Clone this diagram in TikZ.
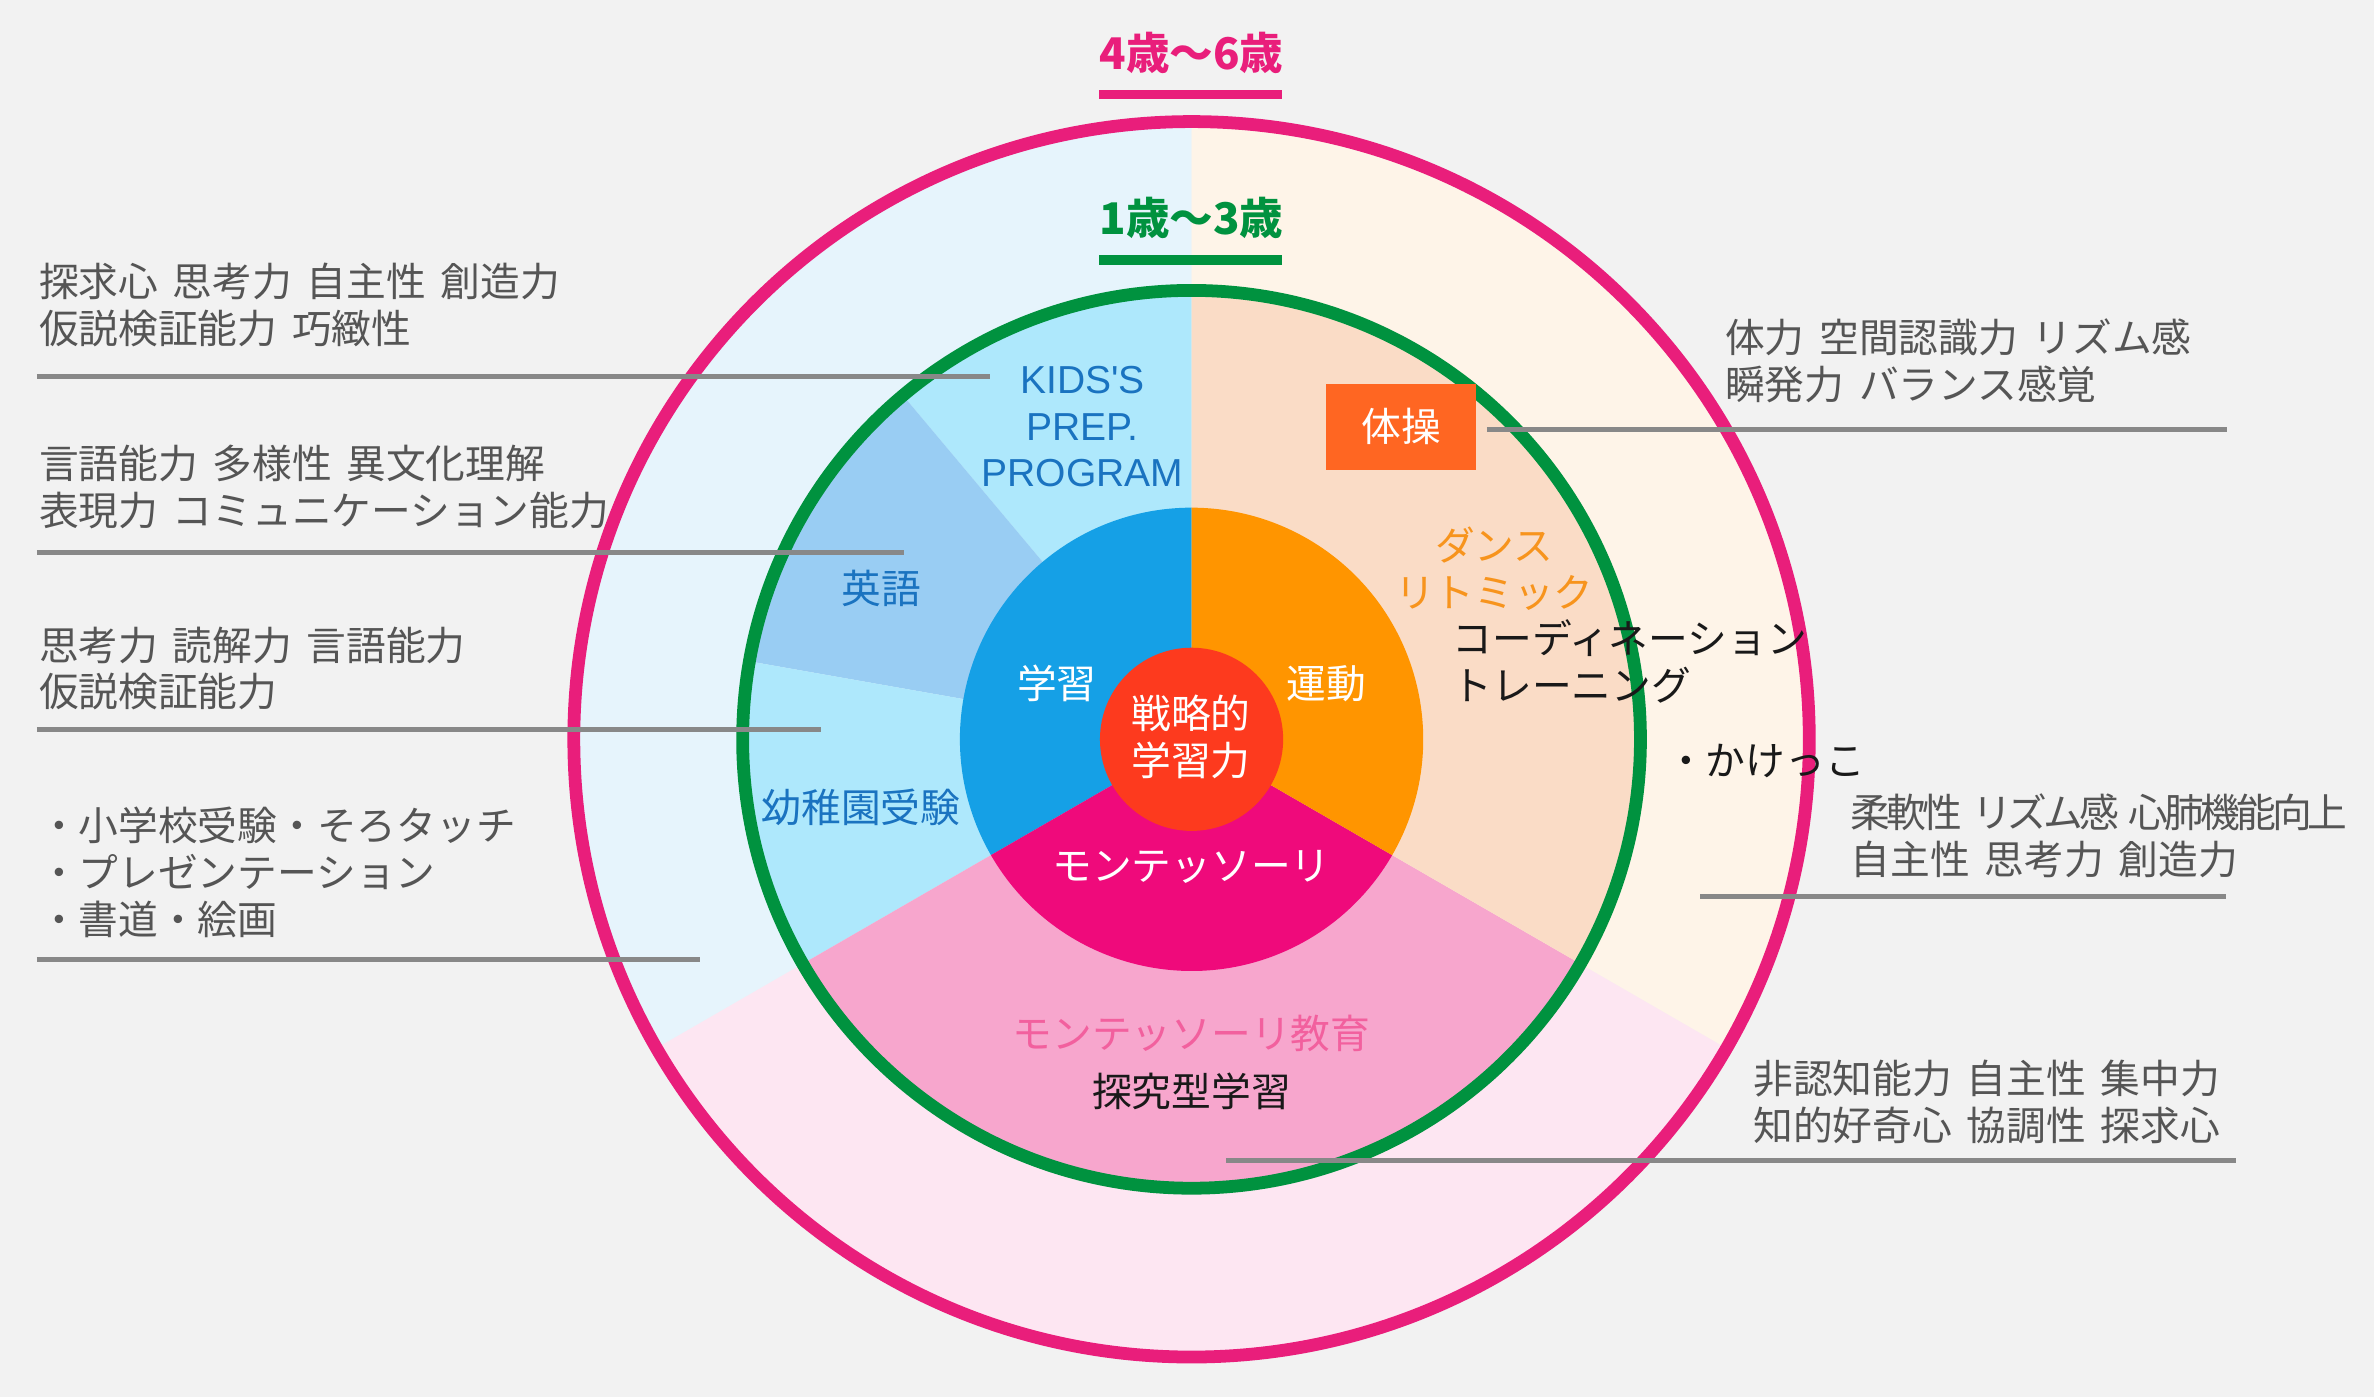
\documentclass[tikz,border=0pt]{standalone}
\usepackage{fontspec}
\setmainfont{Noto Sans CJK JP}
\newfontfamily\latinfont{Liberation Sans}
\usepackage{tikz}
\usetikzlibrary{calc,positioning}

\definecolor{bgGray}{HTML}{F2F2F2}
\definecolor{outBlue}{HTML}{E6F4FC}
\definecolor{outPeach}{HTML}{FEF4E8}
\definecolor{outPink}{HTML}{FDE6F2}
\definecolor{kidsCyan}{HTML}{AEE8FC}
\definecolor{eigoBlue}{HTML}{99CDF3}
\definecolor{ringPeach}{HTML}{FADCC6}
\definecolor{ringPink}{HTML}{F7A6CD}
\definecolor{studyBlue}{HTML}{15A0E6}
\definecolor{moveOrange}{HTML}{FF9500}
\definecolor{monteMagenta}{HTML}{EF0A7B}
\definecolor{coreRed}{HTML}{FD3A1E}
\definecolor{taisoOrange}{HTML}{FF6622}
\definecolor{ageGreen}{HTML}{00923F}
\definecolor{agePink}{HTML}{E91E7B}
\definecolor{labelBlue}{HTML}{1A73C0}
\definecolor{danceOrange}{HTML}{F7941D}
\definecolor{monteText}{HTML}{F2609E}
\definecolor{textGray}{HTML}{555555}
\definecolor{lineGray}{HTML}{888888}

\newcommand{\bodyfont}{\fontsize{11.2}{13.2}\selectfont\spaceskip=0.37em\relax}
\newcommand{\agefont}{\fontsize{12.3}{14}\selectfont\bfseries}

\tikzset{
  leader/.style={draw=lineGray, line width=1.4pt},
  graytext/.style={anchor=west, inner sep=0pt, text=textGray, align=left, font=\bodyfont},
  darktext/.style={inner sep=0pt, text=black!90, align=left, font=\bodyfont},
  seclabel/.style={inner sep=0pt, align=center, font=\bodyfont},
  agetitle/.style={inner sep=0pt, font=\agefont},
}

\begin{document}
\begin{tikzpicture}[x=0.15mm,y=-0.15mm]
  \useasboundingbox (0,0) rectangle (1568,923);
  \fill[bgGray] (0,0) rectangle (1568,923);
  \coordinate (c) at (787,488.3);

  % Outer ring (4-6 years)
  \fill[outBlue] (c) -- ++(-90:408) arc[start angle=-90, end angle=-210, radius=408] -- cycle;
  \fill[outPink] (c) -- ++(-210:408) arc[start angle=-210, end angle=-330, radius=408] -- cycle;
  \fill[outPeach] (c) -- ++(30:408) arc[start angle=30, end angle=-90, radius=408] -- cycle;
  % Green ring (1-3 years)
  \fill[kidsCyan] (c) -- ++(-90:296.5) arc[start angle=-90, end angle=-130, radius=296.5] -- cycle;
  \fill[eigoBlue] (c) -- ++(-130:296.5) arc[start angle=-130, end angle=-170, radius=296.5] -- cycle;
  \fill[kidsCyan] (c) -- ++(-170:296.5) arc[start angle=-170, end angle=-210, radius=296.5] -- cycle;
  \fill[ringPink] (c) -- ++(-210:296.5) arc[start angle=-210, end angle=-330, radius=296.5] -- cycle;
  \fill[ringPeach] (c) -- ++(30:296.5) arc[start angle=30, end angle=-90, radius=296.5] -- cycle;
  % Middle ring
  \fill[studyBlue] (c) -- ++(-90:153) arc[start angle=-90, end angle=-210, radius=153] -- cycle;
  \fill[monteMagenta] (c) -- ++(-210:153) arc[start angle=-210, end angle=-330, radius=153] -- cycle;
  \fill[moveOrange] (c) -- ++(30:153) arc[start angle=30, end angle=-90, radius=153] -- cycle;
  % Core
  \fill[coreRed] (c) circle[radius=60.5];

  % Age circles
  \draw[agePink, line width=3.6pt] (c) circle[radius=408];
  \draw[ageGreen, line width=3.6pt] (c) circle[radius=296.5];

  % Age titles
  \node[agetitle, text=agePink] (age46) at (787,35) {4歳〜6歳};
  \fill[agePink] (726,59.5) rectangle (847,65.7);
  \node[agetitle, text=ageGreen] (age13) at (787,144) {1歳〜3歳};
  \fill[ageGreen] (726,168.6) rectangle (847,174.8);

  % Leader lines
  \coordinate (l1a) at (24.4,248.4); \coordinate (l1b) at (654,248.4);
  \coordinate (l2a) at (24.4,365); \coordinate (l2b) at (597.3,365);
  \coordinate (l3a) at (24.4,481.7); \coordinate (l3b) at (542,481.7);
  \coordinate (l4a) at (24.4,634); \coordinate (l4b) at (462.5,634);
  \coordinate (l5a) at (982,283.8); \coordinate (l5b) at (1470.7,283.8);
  \coordinate (l6a) at (1123,592); \coordinate (l6b) at (1470,592);
  \coordinate (l7a) at (809.9,766.8); \coordinate (l7b) at (1477,766.8);
  \draw[leader] (l1a) -- (l1b);
  \draw[leader] (l2a) -- (l2b);
  \draw[leader] (l3a) -- (l3b);
  \draw[leader] (l4a) -- (l4b);
  \draw[leader] (l5a) -- (l5b);
  \draw[leader] (l6a) -- (l6b);
  \draw[leader] (l7a) -- (l7b);

  % Left notes
  \node[graytext] (kidsNote) at (25.3,201.5) {探求心 思考力 自主性 創造力\\仮説検証能力 巧緻性};
  \node[graytext] (eigoNote) at (25.3,321.5) {言語能力 多様性 異文化理解\\表現力 コミュニケーション能力};
  \node[graytext] (yoNote) at (25.3,441.5) {思考力 読解力 言語能力\\仮説検証能力};
  \node[graytext] (examNote) at (25.3,576.4) {・小学校受験・そろタッチ\\・プレゼンテーション\\・書道・絵画};
  % Right notes
  \node[graytext] (taisoNote) at (1139,238.5) {体力 空間認識力 リズム感\\瞬発力 バランス感覚};
  \node[graytext] (runNote) at (1222,552) {{\addfontfeature{LetterSpace=-10}\spaceskip=0.25em\relax 柔軟性 リズム感 心肺機能向上}\\自主性 思考力 創造力};
  \node[graytext] (monteNote) at (1157.6,728) {非認知能力 自主性 集中力\\知的好奇心 協調性 探求心};

  % Sector labels
  \node[seclabel, text=labelBlue, font=\latinfont\fontsize{11}{13.1}\selectfont] (kids) at (715,281.8) {KIDS'S\\PREP.\\PROGRAM};
  \node[seclabel, text=labelBlue] (eigo) at (582,388.6) {英語};
  \node[seclabel, text=labelBlue] (yochien) at (568.6,533.2) {幼稚園受験};
  \node[seclabel, text=white] (gakushu) at (698,451.3) {学習};
  \node[seclabel, text=white] (undo) at (876,451.3) {運動};
  \node[seclabel, text=white] (senryaku) at (786.7,486.5) {戦略的\\学習力};
  \node[seclabel, text=white] (monte) at (787,572.5) {モンテッソーリ};
  \node[seclabel, text=monteText] (monteEdu) at (787,682.4) {モンテッソーリ教育};
  \node[seclabel, text=black!90] (tankyu) at (787,720.5) {探究型学習};
  \node[seclabel, text=white, fill=taisoOrange, minimum width=14.85mm, minimum height=8.55mm] (taiso) at (925.5,281.9) {体操};
  \node[seclabel, text=danceOrange] (dance) at (987,375.5) {ダンス\\リトミック};
  \node[darktext, anchor=west] (coordTr) at (959,436.8) {コーディネーション\\トレーニング};
  \node[darktext, anchor=west] (kakekko) at (1100,502.8) {・かけっこ};
\end{tikzpicture}
\end{document}
